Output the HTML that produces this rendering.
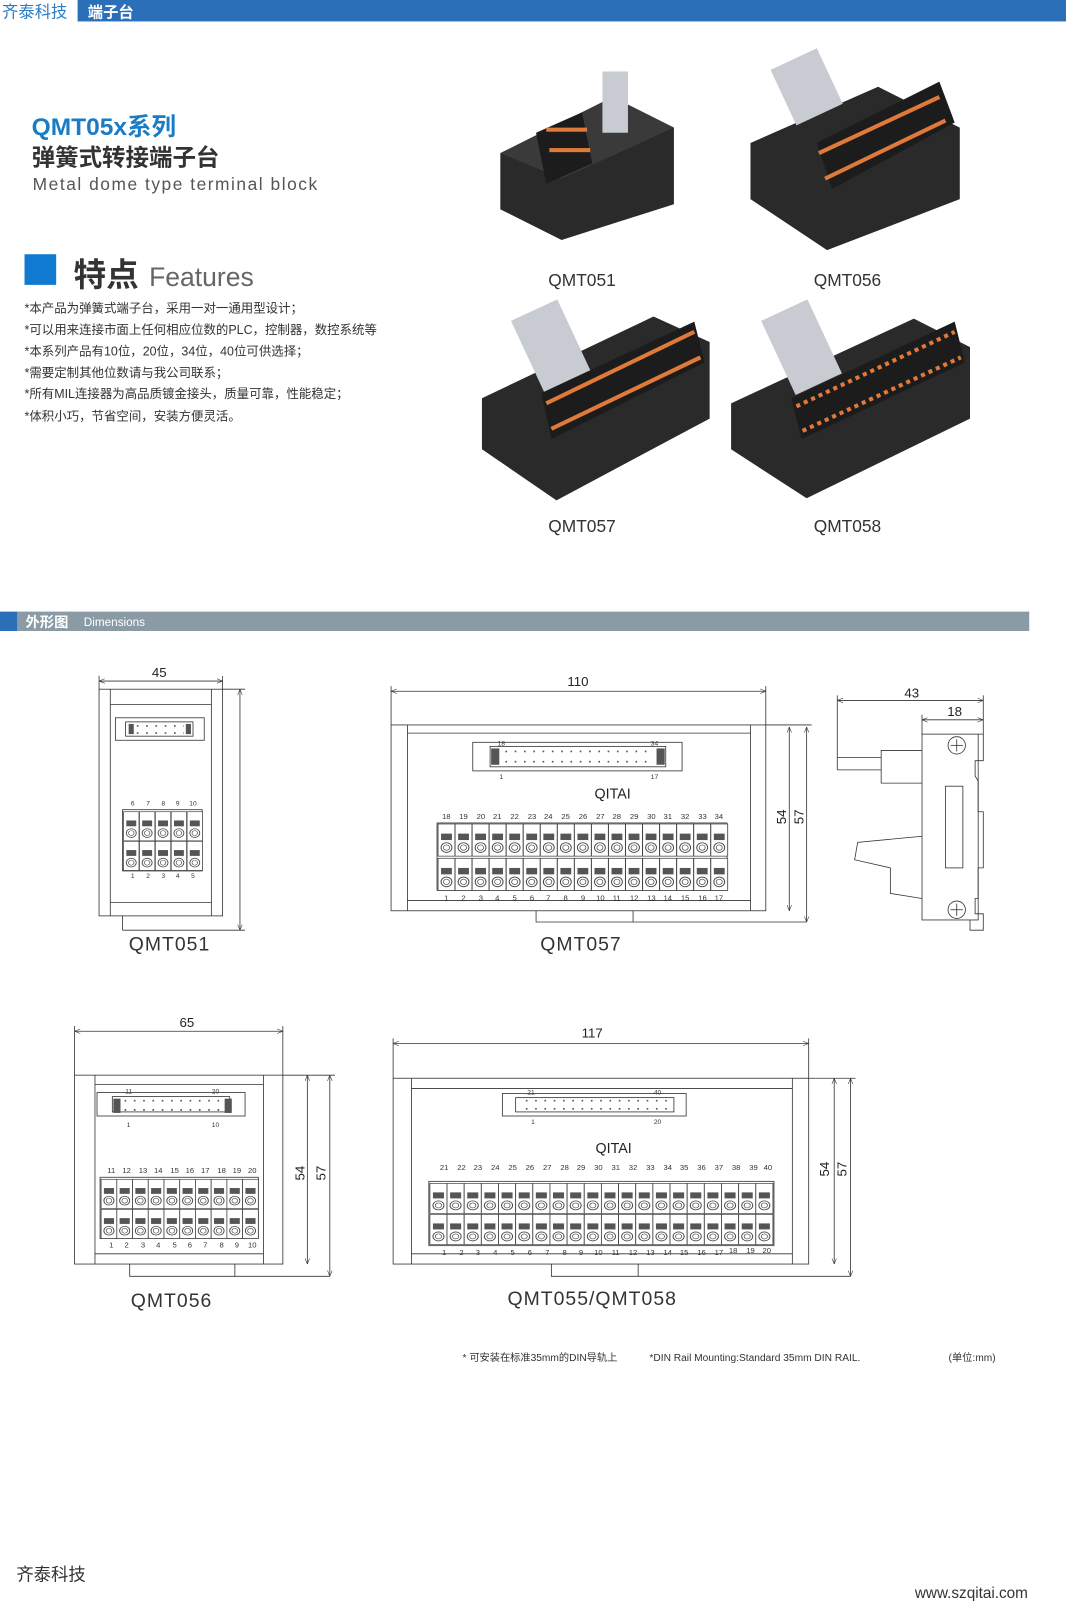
<!DOCTYPE html>
<html><head><meta charset="utf-8"><style>
html,body{margin:0;padding:0;background:#fff;}
body{width:1066px;height:1601px;overflow:hidden;}
svg{display:block;font-family:"Liberation Sans","Noto Sans CJK SC",sans-serif;}
</style></head><body>
<svg width="1066" height="1601" viewBox="0 0 1044 1568" xmlns="http://www.w3.org/2000/svg">
<defs>
<g id="cell">
<rect x="0" y="0" width="14" height="30" fill="#fff" stroke="#444" stroke-width="0.7"/>
<rect x="2.5" y="9" width="9" height="6" fill="#555"/>
<circle cx="7" cy="22" r="4.5" fill="none" stroke="#444" stroke-width="0.8"/>
<circle cx="7" cy="22" r="2.5" fill="none" stroke="#444" stroke-width="0.6"/>
</g>
<marker id="ar" viewBox="0 0 10 10" refX="10" refY="5" markerWidth="7" markerHeight="7" orient="auto-start-reverse"><path d="M0,1 L10,5 L0,9" fill="none" stroke="#333" stroke-width="1"/></marker>
</defs>

<!-- header -->
<rect x="76" y="0" width="968" height="21" fill="#2b6fb8"/>
<text x="2" y="17" font-size="16" fill="#2b7cc4">齐泰科技</text>
<text x="86" y="17" font-size="15" font-weight="bold" fill="#fff">端子台</text>

<text x="31" y="132" font-size="24" font-weight="bold" fill="#1a7cc4">QMT05x系列</text>
<text x="31" y="162" font-size="23" font-weight="bold" fill="#333">弹簧式转接端子台</text>
<text x="32" y="186" font-size="17" fill="#555" letter-spacing="1.5">Metal dome type  terminal block</text>

<rect x="24" y="249" width="31" height="30" fill="#0f7ad0"/>
<text x="72" y="280" font-size="32" font-weight="bold" fill="#333">特点</text>
<text x="146" y="280" font-size="26" fill="#666">Features</text>
<g font-size="12.2" fill="#333">
<text x="24" y="306">*本产品为弹簧式端子台，采用一对一通用型设计；</text>
<text x="24" y="327">*可以用来连接市面上任何相应位数的PLC，控制器，数控系统等</text>
<text x="24" y="348">*本系列产品有10位，20位，34位，40位可供选择；</text>
<text x="24" y="369">*需要定制其他位数请与我公司联系；</text>
<text x="24" y="390">*所有MIL连接器为高品质镀金接头，质量可靠，性能稳定；</text>
<text x="24" y="412">*体积小巧，节省空间，安装方便灵活。</text>
</g>

<!-- photos -->
<g>
<polygon points="490,150 600,95 660,125 660,200 550,235 490,205" fill="#2a2a2a"/>
<polygon points="490,150 600,95 660,125 550,175" fill="#3a3a3a"/>
<rect x="590" y="70" width="25" height="60" fill="#c8ccd2"/>
<polygon points="525,130 570,110 580,160 535,180" fill="#1c1c1c"/>
<g fill="#e07a3a"><rect x="535" y="125" width="40" height="4"/><rect x="538" y="145" width="40" height="4"/></g>
<text x="570" y="280" font-size="17" fill="#333" text-anchor="middle">QMT051</text>

<polygon points="735,140 860,85 940,125 940,195 810,245 735,195" fill="#2a2a2a"/>
<rect x="765" y="55" width="50" height="60" fill="#c8ccd2" transform="rotate(-25 790 85)"/>
<polygon points="800,140 920,80 935,120 815,185" fill="#1c1c1c"/>
<g stroke="#e07a3a" stroke-width="4"><line x1="802" y1="150" x2="920" y2="95"/><line x1="808" y1="175" x2="926" y2="118"/></g>
<text x="830" y="280" font-size="17" fill="#333" text-anchor="middle">QMT056</text>

<polygon points="472,390 640,310 695,335 695,410 545,490 472,440" fill="#2a2a2a"/>
<rect x="515" y="300" width="50" height="80" fill="#c8ccd2" transform="rotate(-25 540 340)"/>
<polygon points="530,385 680,315 690,355 540,430" fill="#1c1c1c"/>
<g stroke="#e07a3a" stroke-width="4"><line x1="535" y1="395" x2="680" y2="325"/><line x1="540" y1="420" x2="686" y2="350"/></g>
<text x="570" y="521" font-size="17" fill="#333" text-anchor="middle">QMT057</text>

<polygon points="716,395 895,312 950,340 950,410 790,488 716,440" fill="#2a2a2a"/>
<rect x="760" y="300" width="50" height="80" fill="#c8ccd2" transform="rotate(-25 785 340)"/>
<polygon points="775,390 935,315 945,355 785,430" fill="#1c1c1c"/>
<g stroke="#e07a3a" stroke-width="4" stroke-dasharray="4 4"><line x1="780" y1="398" x2="935" y2="325"/><line x1="786" y1="422" x2="941" y2="350"/></g>
<text x="830" y="521" font-size="17" fill="#333" text-anchor="middle">QMT058</text>
</g>

<!-- dimensions bar -->
<rect x="0" y="599" width="17" height="19" fill="#2b6fb8"/>
<rect x="17" y="599" width="991" height="19" fill="#8a9ba6"/>
<text x="25" y="614" font-size="14" font-weight="bold" fill="#fff">外形图</text>
<text x="82" y="613" font-size="11.5" fill="#fff">Dimensions</text>

<g stroke="#333" stroke-width="0.8" fill="none">
<!-- QMT051 -->
<line x1="97" y1="667" x2="218" y2="667" marker-start="url(#ar)" marker-end="url(#ar)"/>
<line x1="97" y1="662" x2="97" y2="675"/><line x1="218" y1="662" x2="218" y2="675"/>
<rect x="97" y="675" width="121" height="222"/>
<line x1="108" y1="675" x2="108" y2="897"/><line x1="207" y1="675" x2="207" y2="897"/>
<line x1="108" y1="690" x2="207" y2="690"/><line x1="108" y1="884" x2="207" y2="884"/>
<line x1="235" y1="675" x2="235" y2="911" marker-start="url(#ar)" marker-end="url(#ar)"/>
<line x1="218" y1="675" x2="240" y2="675"/><line x1="120" y1="911" x2="240" y2="911"/>
<line x1="120" y1="897" x2="120" y2="911"/>
<rect x="113" y="703" width="87" height="22"/><rect x="123" y="707" width="66" height="14"/>
<rect x="120" y="793" width="78" height="60"/>
<!-- QMT057 -->
<line x1="383" y1="677" x2="750" y2="677" marker-start="url(#ar)" marker-end="url(#ar)"/>
<line x1="383" y1="672" x2="383" y2="710"/><line x1="750" y1="672" x2="750" y2="710"/>
<rect x="383" y="710" width="367" height="182"/>
<line x1="399" y1="710" x2="399" y2="892"/><line x1="735" y1="710" x2="735" y2="892"/>
<line x1="399" y1="718" x2="735" y2="718"/><line x1="399" y1="882" x2="735" y2="882"/>
<line x1="773" y1="712" x2="773" y2="892" marker-start="url(#ar)" marker-end="url(#ar)"/>
<line x1="790" y1="712" x2="790" y2="903" marker-start="url(#ar)" marker-end="url(#ar)"/>
<line x1="750" y1="710" x2="795" y2="710"/>
<polyline points="525,892 525,903 790,903"/><line x1="620" y1="892" x2="620" y2="903"/>
<rect x="463" y="727" width="205" height="28"/><rect x="480" y="731" width="172" height="20"/>
<rect x="428" y="806" width="284" height="66"/>
<!-- side view -->
<line x1="820" y1="686" x2="963" y2="686" marker-start="url(#ar)" marker-end="url(#ar)"/>
<line x1="903" y1="705" x2="963" y2="705" marker-start="url(#ar)" marker-end="url(#ar)"/>
<line x1="820" y1="681" x2="820" y2="754"/><line x1="963" y1="681" x2="963" y2="719"/>
<line x1="903" y1="700" x2="903" y2="719"/>
<polyline points="820,742 863,742"/><line x1="820" y1="754" x2="863" y2="754"/>
<polyline points="903,735 863,735 863,767 903,767"/>
<rect x="903" y="719" width="55" height="182"/>
<polyline points="958,719 963,719 963,745 955,745 955,760 958,765 958,795 963,795 963,850 958,850 958,880 955,880 955,895 963,895 963,911 950,911 950,901"/>
<rect x="926" y="770" width="17" height="80"/>
<circle cx="937" cy="730" r="8.5"/><circle cx="937" cy="891" r="8.5"/>
<line x1="931" y1="730" x2="943" y2="730"/><line x1="937" y1="724" x2="937" y2="736"/>
<line x1="931" y1="891" x2="943" y2="891"/><line x1="937" y1="885" x2="937" y2="897"/>
<polyline points="903,819 840,825 837,842 872,850 872,875 903,880"/>
<!-- QMT056 -->
<line x1="73" y1="1010" x2="277" y2="1010" marker-start="url(#ar)" marker-end="url(#ar)"/>
<line x1="73" y1="1005" x2="73" y2="1053"/><line x1="277" y1="1005" x2="277" y2="1053"/>
<rect x="73" y="1053" width="204" height="185"/>
<line x1="93" y1="1053" x2="93" y2="1238"/><line x1="258" y1="1053" x2="258" y2="1238"/>
<line x1="93" y1="1062" x2="258" y2="1062"/><line x1="93" y1="1228" x2="258" y2="1228"/>
<line x1="301" y1="1053" x2="301" y2="1238" marker-start="url(#ar)" marker-end="url(#ar)"/>
<line x1="323" y1="1053" x2="323" y2="1250" marker-start="url(#ar)" marker-end="url(#ar)"/>
<line x1="277" y1="1053" x2="328" y2="1053"/>
<polyline points="127,1238 127,1250 323,1250"/><line x1="230" y1="1238" x2="230" y2="1250"/>
<rect x="95" y="1070" width="145" height="23"/><rect x="110" y="1074" width="115" height="15"/>
<rect x="98" y="1153" width="155" height="60"/>
<!-- QMT058 -->
<line x1="385" y1="1022" x2="792" y2="1022" marker-start="url(#ar)" marker-end="url(#ar)"/>
<line x1="385" y1="1017" x2="385" y2="1056"/><line x1="792" y1="1017" x2="792" y2="1056"/>
<rect x="385" y="1056" width="407" height="182"/>
<line x1="403" y1="1056" x2="403" y2="1238"/><line x1="776" y1="1056" x2="776" y2="1238"/>
<line x1="403" y1="1066" x2="776" y2="1066"/><line x1="403" y1="1228" x2="776" y2="1228"/>
<line x1="817" y1="1056" x2="817" y2="1238" marker-start="url(#ar)" marker-end="url(#ar)"/>
<line x1="833" y1="1056" x2="833" y2="1250" marker-start="url(#ar)" marker-end="url(#ar)"/>
<line x1="792" y1="1056" x2="838" y2="1056"/>
<polyline points="540,1238 540,1250 833,1250"/><line x1="625" y1="1238" x2="625" y2="1250"/>
<rect x="492" y="1071" width="180" height="22"/><rect x="505" y="1075" width="155" height="14"/>
<rect x="420" y="1157" width="338" height="63"/>
</g>

<!-- connector pin dots -->
<g fill="#555">
<rect x="481" y="733" width="8" height="16"/><rect x="643" y="733" width="8" height="16"/>
<rect x="111" y="1076" width="7" height="14"/><rect x="220" y="1076" width="7" height="14"/>
<rect x="126" y="709" width="5" height="10"/><rect x="182" y="709" width="5" height="10"/>
</g>
<g stroke="#555" stroke-width="1.6" stroke-dasharray="1.6 7.5">
<line x1="495" y1="736" x2="640" y2="736"/><line x1="495" y1="746" x2="640" y2="746"/>
<line x1="122" y1="1078" x2="218" y2="1078"/><line x1="122" y1="1087" x2="218" y2="1087"/>
<line x1="515" y1="1078" x2="655" y2="1078"/><line x1="515" y1="1086" x2="655" y2="1086"/>
<line x1="134" y1="711" x2="180" y2="711"/><line x1="134" y1="718" x2="180" y2="718"/>
</g>

<!-- terminal cells -->
<g transform="translate(121,795) scale(1.08,0.95)"><use href="#cell"/><use href="#cell" x="14.4"/><use href="#cell" x="28.8"/><use href="#cell" x="43.2"/><use href="#cell" x="57.6"/></g>
<g transform="translate(121,824) scale(1.08,0.95)"><use href="#cell"/><use href="#cell" x="14.4"/><use href="#cell" x="28.8"/><use href="#cell" x="43.2"/><use href="#cell" x="57.6"/></g>
<g transform="translate(429,807) scale(1.18,1.05)">
<use href="#cell"/><use href="#cell" x="14.15"/><use href="#cell" x="28.3"/><use href="#cell" x="42.45"/><use href="#cell" x="56.6"/><use href="#cell" x="70.75"/><use href="#cell" x="84.9"/><use href="#cell" x="99.05"/><use href="#cell" x="113.2"/><use href="#cell" x="127.35"/><use href="#cell" x="141.5"/><use href="#cell" x="155.65"/><use href="#cell" x="169.8"/><use href="#cell" x="183.95"/><use href="#cell" x="198.1"/><use href="#cell" x="212.25"/><use href="#cell" x="226.4"/>
<g transform="translate(0,32)"><use href="#cell"/><use href="#cell" x="14.15"/><use href="#cell" x="28.3"/><use href="#cell" x="42.45"/><use href="#cell" x="56.6"/><use href="#cell" x="70.75"/><use href="#cell" x="84.9"/><use href="#cell" x="99.05"/><use href="#cell" x="113.2"/><use href="#cell" x="127.35"/><use href="#cell" x="141.5"/><use href="#cell" x="155.65"/><use href="#cell" x="169.8"/><use href="#cell" x="183.95"/><use href="#cell" x="198.1"/><use href="#cell" x="212.25"/><use href="#cell" x="226.4"/></g>
</g>
<g transform="translate(99,1155) scale(1.1,0.95)">
<use href="#cell"/><use href="#cell" x="14"/><use href="#cell" x="28"/><use href="#cell" x="42"/><use href="#cell" x="56"/><use href="#cell" x="70"/><use href="#cell" x="84"/><use href="#cell" x="98"/><use href="#cell" x="112"/><use href="#cell" x="126"/>
<g transform="translate(0,31)"><use href="#cell"/><use href="#cell" x="14"/><use href="#cell" x="28"/><use href="#cell" x="42"/><use href="#cell" x="56"/><use href="#cell" x="70"/><use href="#cell" x="84"/><use href="#cell" x="98"/><use href="#cell" x="112"/><use href="#cell" x="126"/></g>
</g>
<g transform="translate(421,1159) scale(1.2,0.98)">
<use href="#cell"/><use href="#cell" x="14"/><use href="#cell" x="28"/><use href="#cell" x="42"/><use href="#cell" x="56"/><use href="#cell" x="70"/><use href="#cell" x="84"/><use href="#cell" x="98"/><use href="#cell" x="112"/><use href="#cell" x="126"/><use href="#cell" x="140"/><use href="#cell" x="154"/><use href="#cell" x="168"/><use href="#cell" x="182"/><use href="#cell" x="196"/><use href="#cell" x="210"/><use href="#cell" x="224"/><use href="#cell" x="238"/><use href="#cell" x="252"/><use href="#cell" x="266"/>
<g transform="translate(0,31)"><use href="#cell"/><use href="#cell" x="14"/><use href="#cell" x="28"/><use href="#cell" x="42"/><use href="#cell" x="56"/><use href="#cell" x="70"/><use href="#cell" x="84"/><use href="#cell" x="98"/><use href="#cell" x="112"/><use href="#cell" x="126"/><use href="#cell" x="140"/><use href="#cell" x="154"/><use href="#cell" x="168"/><use href="#cell" x="182"/><use href="#cell" x="196"/><use href="#cell" x="210"/><use href="#cell" x="224"/><use href="#cell" x="238"/><use href="#cell" x="252"/><use href="#cell" x="266"/></g>
</g>

<!-- dimension texts -->
<g font-size="13" fill="#222" text-anchor="middle">
<text x="156" y="663">45</text>
<text x="566" y="672">110</text>
<text x="893" y="683">43</text>
<text x="935" y="701">18</text>
<text x="183" y="1006">65</text>
<text x="580" y="1016">117</text>
<text transform="translate(770,800) rotate(-90)">54</text>
<text transform="translate(787,800) rotate(-90)">57</text>
<text transform="translate(298,1149) rotate(-90)">54</text>
<text transform="translate(319,1149) rotate(-90)">57</text>
<text transform="translate(812,1145) rotate(-90)">54</text>
<text transform="translate(829,1145) rotate(-90)">57</text>
<text x="600" y="782" font-size="14">QITAI</text>
<text x="601" y="1129" font-size="14">QITAI</text>
</g>
<g font-size="19" fill="#333" text-anchor="middle" letter-spacing="1">
<text x="166" y="931">QMT051</text>
<text x="569" y="931">QMT057</text>
<text x="168" y="1280">QMT056</text>
<text x="580" y="1278">QMT055/QMT058</text>
</g>

<!-- small numbers -->
<g font-size="6.5" fill="#333" text-anchor="middle">
<text x="130" y="789">6</text><text x="145" y="789">7</text><text x="160" y="789">8</text><text x="174" y="789">9</text><text x="189" y="789">10</text>
<text x="130" y="860">1</text><text x="145" y="860">2</text><text x="160" y="860">3</text><text x="174" y="860">4</text><text x="189" y="860">5</text>
<text x="491" y="730">18</text><text x="641" y="730">34</text><text x="491" y="763">1</text><text x="641" y="763">17</text>
<text x="126" y="1071">11</text><text x="211" y="1071">20</text><text x="126" y="1104">1</text><text x="211" y="1104">10</text>
<text x="520" y="1072">21</text><text x="644" y="1072">40</text><text x="522" y="1101">1</text><text x="644" y="1101">20</text>
</g>
<g font-size="7.5" fill="#333" text-anchor="middle">
<text x="437" y="802">18</text><text x="454" y="802">19</text><text x="471" y="802">20</text><text x="487" y="802">21</text><text x="504" y="802">22</text><text x="521" y="802">23</text><text x="537" y="802">24</text><text x="554" y="802">25</text><text x="571" y="802">26</text><text x="588" y="802">27</text><text x="604" y="802">28</text><text x="621" y="802">29</text><text x="638" y="802">30</text><text x="654" y="802">31</text><text x="671" y="802">32</text><text x="688" y="802">33</text><text x="704" y="802">34</text>
<text x="437" y="882">1</text><text x="454" y="882">2</text><text x="471" y="882">3</text><text x="487" y="882">4</text><text x="504" y="882">5</text><text x="521" y="882">6</text><text x="537" y="882">7</text><text x="554" y="882">8</text><text x="571" y="882">9</text><text x="588" y="882">10</text><text x="604" y="882">11</text><text x="621" y="882">12</text><text x="638" y="882">13</text><text x="654" y="882">14</text><text x="671" y="882">15</text><text x="688" y="882">16</text><text x="704" y="882">17</text>
<text x="109" y="1149">11</text><text x="124" y="1149">12</text><text x="140" y="1149">13</text><text x="155" y="1149">14</text><text x="171" y="1149">15</text><text x="186" y="1149">16</text><text x="201" y="1149">17</text><text x="217" y="1149">18</text><text x="232" y="1149">19</text><text x="247" y="1149">20</text>
<text x="109" y="1222">1</text><text x="124" y="1222">2</text><text x="140" y="1222">3</text><text x="155" y="1222">4</text><text x="171" y="1222">5</text><text x="186" y="1222">6</text><text x="201" y="1222">7</text><text x="217" y="1222">8</text><text x="232" y="1222">9</text><text x="247" y="1222">10</text>
<text x="435" y="1146">21</text><text x="452" y="1146">22</text><text x="468" y="1146">23</text><text x="485" y="1146">24</text><text x="502" y="1146">25</text><text x="519" y="1146">26</text><text x="536" y="1146">27</text><text x="553" y="1146">28</text><text x="569" y="1146">29</text><text x="586" y="1146">30</text><text x="603" y="1146">31</text><text x="620" y="1146">32</text><text x="637" y="1146">33</text><text x="654" y="1146">34</text><text x="670" y="1146">35</text><text x="687" y="1146">36</text><text x="704" y="1146">37</text><text x="721" y="1146">38</text><text x="738" y="1146">39</text><text x="752" y="1146">40</text>
<text x="435" y="1229">1</text><text x="452" y="1229">2</text><text x="468" y="1229">3</text><text x="485" y="1229">4</text><text x="502" y="1229">5</text><text x="519" y="1229">6</text><text x="536" y="1229">7</text><text x="553" y="1229">8</text><text x="569" y="1229">9</text><text x="586" y="1229">10</text><text x="603" y="1229">11</text><text x="620" y="1229">12</text><text x="637" y="1229">13</text><text x="654" y="1229">14</text><text x="670" y="1229">15</text><text x="687" y="1229">16</text><text x="704" y="1229">17</text><text x="718" y="1227">18</text><text x="735" y="1227">19</text><text x="751" y="1227">20</text>
</g>

<g font-size="10" fill="#333">
<text x="453" y="1333">* 可安装在标准35mm的DIN导轨上</text>
<text x="636" y="1333">*DIN Rail Mounting:Standard 35mm DIN RAIL.</text>
<text x="929" y="1333">(单位:mm)</text>
</g>
<text x="16" y="1548" font-size="17" fill="#333">齐泰科技</text>
<text x="896" y="1565" font-size="15" fill="#333">www.szqitai.com</text>
</svg>
</body></html>
